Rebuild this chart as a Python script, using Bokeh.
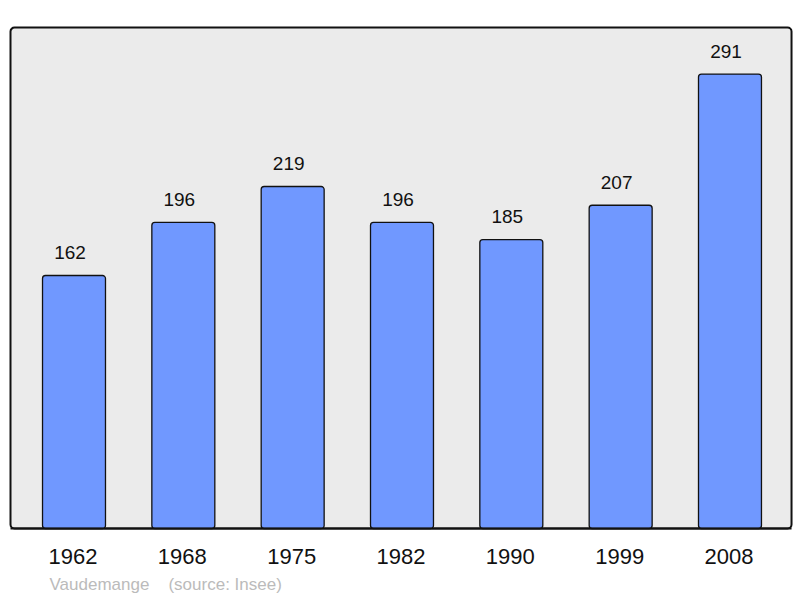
from bokeh.plotting import figure
from bokeh.models import ColumnDataSource, Range1d
from bokeh.core.properties import value
from bokeh.embed import file_html
from bokeh.resources import INLINE

years = ["1962", "1968", "1975", "1982", "1990", "1999", "2008"]
population = [162, 196, 219, 196, 185, 207, 291]
town = "Vaudemange"
source_note = "(source: Insee)"

xs = list(range(len(years)))
src = ColumnDataSource(dict(
    x=xs,
    top=population,
    label_y=[v + 14.5 for v in population],
    vtext=[str(v) for v in population],
    year=years,
    year_y=[-17.9] * len(years),
))

p = figure(width=800, height=598, output_backend="svg", toolbar_location=None,
           x_axis_type=None, y_axis_type=None,
           x_range=Range1d(-0.6723, 6.645), y_range=Range1d(-44.82, 338.09),
           min_border=0)
p.background_fill_color = "white"
p.border_fill_color = "white"
p.outline_line_color = None
p.xgrid.visible = False
p.ygrid.visible = False

# plot area panel
p.quad(left=[-0.5808], right=[6.5629], bottom=[0], top=[320.8],
       fill_color="#ebebeb", line_color="#111111", line_width=2,
       border_radius=4)

p.vbar(x="x", top="top", bottom=0, width=0.576, source=src,
       fill_color="#7098ff", line_color="#111111", line_width=1.3,
       border_radius=3)

# redraw bottom edge of panel over bar bottoms
p.segment(x0=[-0.5808], x1=[6.5629], y0=[0], y1=[0], line_color="#111111", line_width=2)

p.text(x="x", y="label_y", text="vtext", source=src,
       text_align="center", text_baseline="middle", x_offset=-4,
       text_font=value("Liberation Sans"), text_font_size="19px",
       text_color="#111111")
p.text(x="x", y="year_y", text="year", source=src,
       text_align="center", text_baseline="middle", x_offset=-1,
       text_font=value("Liberation Sans"), text_font_size="22px",
       text_color="#111111")
p.text(x=[-0.224], y=[-35.9], text=[town], text_align="left",
       text_baseline="middle", text_font=value("Liberation Sans"),
       text_font_size="17px", text_color="#bbbbbb")
p.text(x=[0.864], y=[-35.9], text=[source_note], text_align="left",
       text_baseline="middle", text_font=value("Liberation Sans"),
       text_font_size="17px", text_color="#bbbbbb")

open("out.html", "w").write(file_html(p, INLINE))
